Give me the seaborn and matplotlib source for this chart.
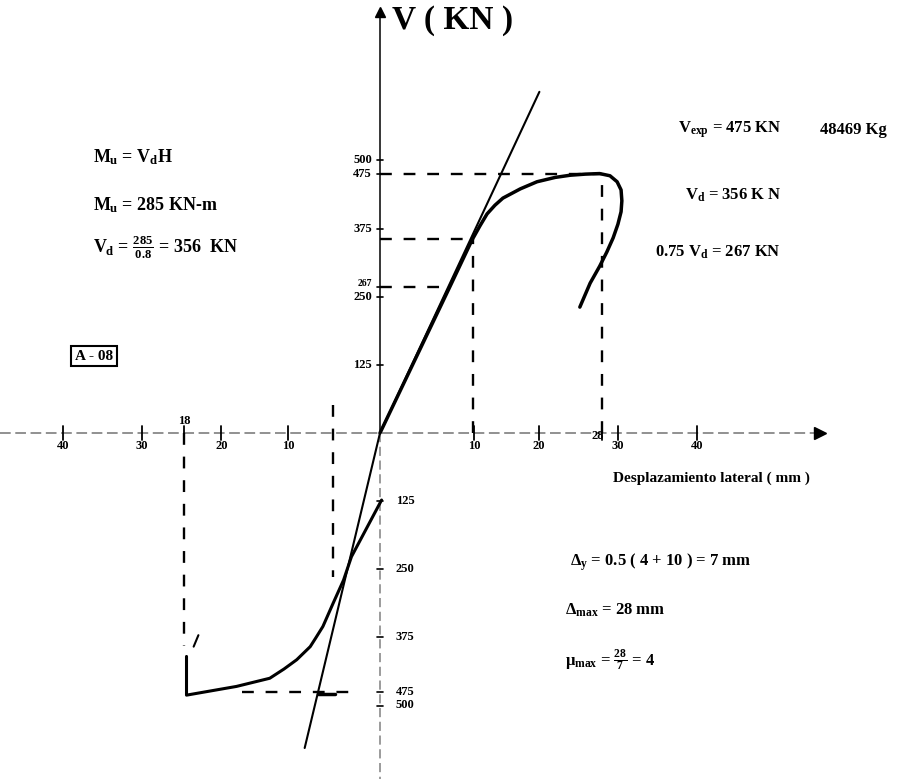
import seaborn as sns
from matplotlib import pyplot as plt

# envelope: displacement in mm of the drawing, shear in kN
pos_disp = [0, 4.4, 8.8, 11.6, 12.6, 13.5, 14.5, 15.5, 17.7, 19.8, 22.1, 24.0, 25.9, 27.7,
            29.0, 29.9, 30.4, 30.5, 30.4, 30.0, 29.4, 28.6, 27.7, 26.5, 25.2]
pos_shear = [0, 134, 268, 354, 380, 402, 418, 431, 448, 461, 469, 473, 475, 476,
             472, 461, 446, 426, 406, 383, 358, 332, 306, 275, 231]

neg_disp = [0.2, -3.6, -4.6, -5.9, -7.2, -8.1, -8.8, -10.5, -12.1, -13.9, -18.1, -24.4, -24.4]
neg_shear = [-123, -227, -270, -312, -355, -376, -392, -416, -433, -450, -465, -481, -410]

# initial stiffness lines
kpos_disp = [0, 20.1]
kpos_shear = [0, 626]
kneg_disp = [0, -9.5]
kneg_shear = [0, -578]

# reference values
v_exp = 475
v_d = 356
v_075 = 267
d_max = 28
d_yield_pos = 11.7
d_yield_neg = -5.9
d_max_neg = -24.7

x_ticks = [-40, -30, -20, -11.6, 11.9, 20, 30, 40]
x_tick_labels = ["40", "30", "20", "10", "10", "20", "30", "40"]
y_ticks_pos = [500, 475, 375, 267, 250, 125]
y_ticks_neg = [-125, -250, -375, -475, -500]

W, H = 897, 779
X0, SX = 380, 7.93
Y0, SY = 433, 0.545


def px(x, y):
    return x / W, 1 - y / H


sns.set_style("white")
plt.rcParams.update({
    "font.family": ["Liberation Serif", "DejaVu Serif"],
    "font.weight": "bold",
    "text.color": "black",
    "mathtext.fontset": "custom",
    "mathtext.rm": "Liberation Serif:bold",
    "mathtext.it": "Liberation Serif:bold",
    "mathtext.bf": "Liberation Serif:bold",
})

fig = plt.figure(figsize=(W / 100, H / 100), dpi=100)
ax = fig.add_axes([0, 0, 1, 1])
ax.set_xlim(-X0 / SX, (W - X0) / SX)
ax.set_ylim((Y0 - H) / SY, Y0 / SY)
ax.axis("off")

# axes drawn by hand like the original sheet
xmin, xmax = ax.get_xlim()
ymin, ymax = ax.get_ylim()
ax.plot([xmin, 55.5], [0, 0], color="0.45", lw=1.1, ls=(0, (7, 3)))
ax.plot([55.5], [0], marker=">", ms=8, color="black")
ax.plot([0, 0], [0, 772], color="black", lw=1.1)
ax.plot([0], [772], marker="^", ms=7, color="black")
ax.plot([0, 0], [0, ymin], color="0.5", lw=1.1, ls=(0, (6, 3)))

for t in x_ticks + [-24.7, 28]:
    ax.plot([t, t], [-12, 12], color="black", lw=1.3)
for t in y_ticks_pos + y_ticks_neg:
    ax.plot([-0.4, 0.4], [t, t], color="black", lw=1.2)

# reference dashed lines
dash = dict(color="black", lw=1.7, ls=(0, (5, 5)))
ax.plot([0, d_max], [v_exp, v_exp], **dash)
ax.plot([d_max, d_max], [0, v_exp], **dash)
ax.plot([0, d_yield_pos], [v_d, v_d], **dash)
ax.plot([d_yield_pos, d_yield_pos], [0, v_d], **dash)
ax.plot([0, 8.8], [v_075, v_075], **dash)
ax.plot([-17.4, -2.9], [-v_exp, -v_exp], **dash)
ax.plot([d_max_neg, d_max_neg], [0, -390], **dash)
ax.plot([d_yield_neg, d_yield_neg], [51, -264], **dash)
ax.plot([-7.8, -5.7], [-478, -478], color="black", lw=2.5)

# curves
sns.lineplot(x=kpos_disp, y=kpos_shear, sort=False, estimator=None, color="black", lw=1.5, ax=ax)
sns.lineplot(x=kneg_disp, y=kneg_shear, sort=False, estimator=None, color="black", lw=1.5, ax=ax)
sns.lineplot(x=pos_disp, y=pos_shear, sort=False, estimator=None, color="black", lw=2.5, ax=ax)
sns.lineplot(x=neg_disp, y=neg_shear, sort=False, estimator=None, color="black", lw=2.2, ax=ax)
ax.plot([-23.5, -22.9], [-392, -371], color="black", lw=1.5)

# tick labels
for t, lab in zip(x_ticks, x_tick_labels):
    ax.text(t, -24, lab, ha="center", va="center", fontsize=9)
ax.text(d_max_neg, 22, "18", ha="center", va="center", fontsize=9)
ax.text(27.4, -6, "28", ha="center", va="center", fontsize=9)
for t in y_ticks_pos:
    fs = 7 if t == v_075 else 9
    yy = t + 8 if t == v_075 else t
    ax.text(-1.0, yy, str(t), ha="right", va="center", fontsize=fs)
for t in y_ticks_neg:
    ax.text(2.0, t, str(-t), ha="left", va="center", fontsize=9)

# annotations
fig.text(*px(392, 20), "V ( KN )", ha="left", va="center", fontsize=24)
fig.text(*px(93, 157), "$M_u$ = $V_d$H", va="center", fontsize=13)
fig.text(*px(93, 205), "$M_u$ = 285 KN-m", va="center", fontsize=13)
fig.text(*px(93, 247), r"$V_d$ = $\frac{285}{0.8}$ = 356  KN", va="center", fontsize=13)
fig.text(*px(75, 356), "A - 08", va="center", fontsize=11,
         bbox=dict(boxstyle="square,pad=0.25", fc="white", ec="black", lw=1.5))

fig.text(*px(678, 130), "$V_{exp}$ = 475 KN", va="center", fontsize=12)
fig.text(*px(820, 130), "48469 Kg", va="center", fontsize=12)
fig.text(*px(685, 195), "$V_d$ = 356 K N", va="center", fontsize=12)
fig.text(*px(655, 252), "0.75 $V_d$ = 267 KN", va="center", fontsize=12)

fig.text(*px(613, 478), "Desplazamiento lateral ( mm )", va="center", fontsize=11)

fig.text(*px(570, 562), r"$\Delta_y$ = 0.5 ( 4 + 10 ) = 7 mm", va="center", fontsize=12)
fig.text(*px(565, 610), r"$\Delta_{max}$ = 28 mm", va="center", fontsize=12)
fig.text(*px(565, 660), r"$\mu_{max}$ = $\frac{28}{7}$ = 4", va="center", fontsize=12)

fig.savefig("out.png", dpi=100)
